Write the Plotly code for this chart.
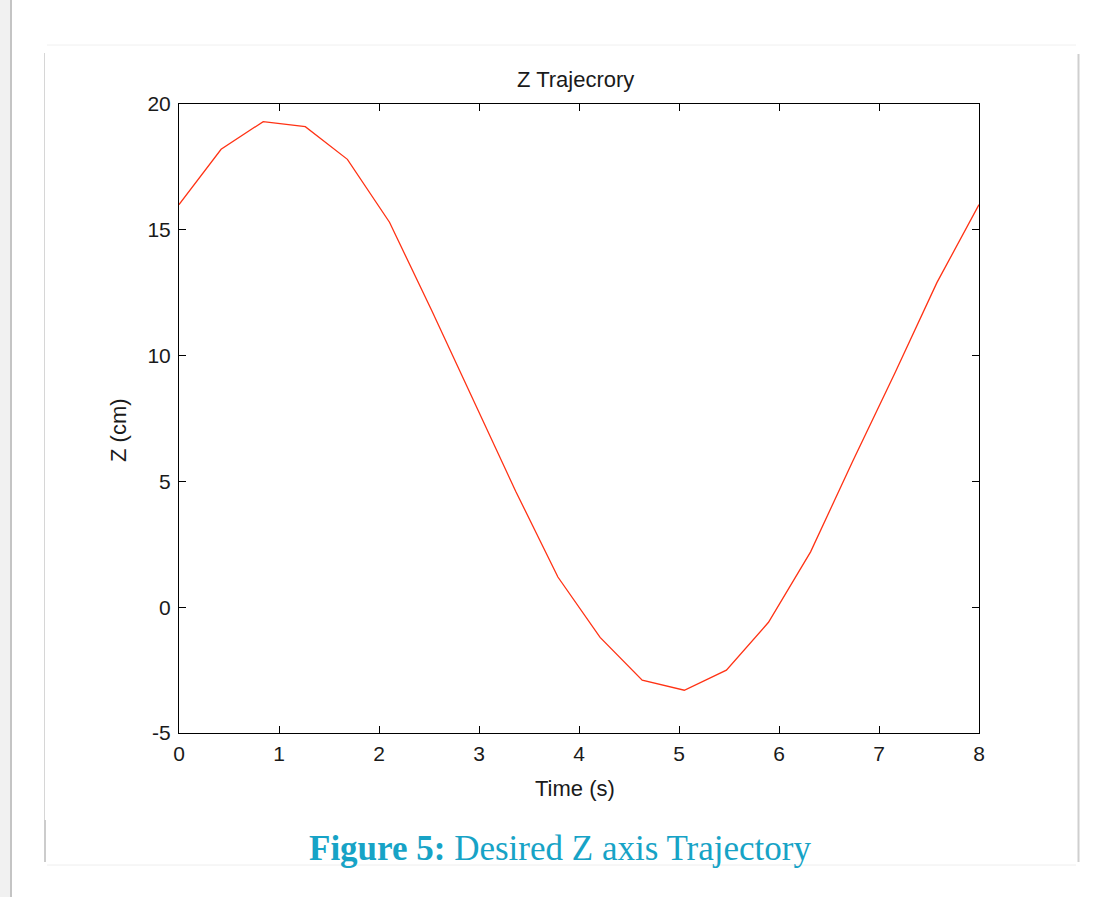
import plotly.graph_objects as go

# Data
time_s = [0.0, 0.421, 0.842, 1.263, 1.684, 2.105, 2.526, 2.947, 3.368, 3.789,
          4.211, 4.632, 5.053, 5.474, 5.895, 6.316, 6.737, 7.158, 7.579, 8.0]
z_cm = [16.0, 18.2, 19.3, 19.1, 17.8, 15.3, 11.8, 8.2, 4.6, 1.2,
        -1.2, -2.9, -3.3, -2.5, -0.6, 2.2, 5.8, 9.3, 12.9, 16.0]
x_ticks = [0, 1, 2, 3, 4, 5, 6, 7, 8]
y_ticks = [-5, 0, 5, 10, 15, 20]

W, H = 1105, 897
L, R, T, B = 179, 979, 104, 733

def px(x):
    return (x - L) / (R - L)

def py(y):
    return (B - y) / (B - T)

FONT = "Liberation Sans, Arial"
TXT = "#1a1a1a"

fig = go.Figure()
fig.add_trace(go.Scatter(x=time_s, y=z_cm, mode="lines",
                         line=dict(color="#ff3214", width=1.3),
                         showlegend=False, hoverinfo="skip"))

axis_common = dict(showline=True, linecolor="black", linewidth=1, mirror="ticks",
                   ticks="inside", ticklen=7, tickcolor="black", tickwidth=1,
                   showgrid=False, zeroline=False,
                   tickfont=dict(family=FONT, size=21, color=TXT))

fig.update_xaxes(range=[0, 8], tickvals=x_ticks, ticktext=[str(v) for v in x_ticks],
                 ticklabelstandoff=2, **axis_common)
fig.update_yaxes(range=[-5, 20], tickvals=y_ticks, ticktext=[str(v) for v in y_ticks],
                 ticklabelstandoff=3, **axis_common)

shapes = [
    # left page edge shadow
    dict(type="rect", xref="paper", yref="paper", x0=px(0), x1=px(10), y0=py(H), y1=py(0),
         fillcolor="#f1f1f1", line=dict(width=0), layer="below"),
    dict(type="line", xref="paper", yref="paper", x0=px(11), x1=px(11), y0=py(H), y1=py(0),
         line=dict(color="#c4c4c4", width=2)),
    # card borders
    dict(type="line", xref="paper", yref="paper", x0=px(47), x1=px(1076), y0=py(45), y1=py(45),
         line=dict(color="#f0f0f0", width=1)),
    dict(type="line", xref="paper", yref="paper", x0=px(44.5), x1=px(44.5), y0=py(53), y1=py(820),
         line=dict(color="#d6d6d6", width=1)),
    dict(type="line", xref="paper", yref="paper", x0=px(45), x1=px(45), y0=py(820), y1=py(862),
         line=dict(color="#cccccc", width=2)),
    dict(type="line", xref="paper", yref="paper", x0=px(1078.5), x1=px(1078.5), y0=py(54), y1=py(862),
         line=dict(color="#cfcfcf", width=2)),
    dict(type="line", xref="paper", yref="paper", x0=px(47), x1=px(1076), y0=py(865), y1=py(865),
         line=dict(color="#eeeeee", width=1)),
]

annotations = [
    dict(text="Z Trajecrory", x=px(575), y=py(80), xref="paper", yref="paper",
         showarrow=False, xanchor="center", yanchor="middle",
         font=dict(family=FONT, size=22, color=TXT)),
    dict(text="Time (s)", x=px(575), y=py(788), xref="paper", yref="paper",
         showarrow=False, xanchor="center", yanchor="middle",
         font=dict(family=FONT, size=22, color=TXT)),
    dict(text="Z (cm)", x=px(118), y=py(430), xref="paper", yref="paper",
         showarrow=False, xanchor="center", yanchor="middle", textangle=-90,
         font=dict(family=FONT, size=22, color=TXT)),
    dict(text="<b>Figure 5:</b> Desired Z axis Trajectory", x=px(560), y=py(848),
         xref="paper", yref="paper", showarrow=False, xanchor="center", yanchor="middle",
         font=dict(family="Liberation Serif, Times New Roman, serif", size=35, color="#17a3c6")),
]

fig.update_layout(width=W, height=H, margin=dict(l=L, r=W - R, t=T, b=H - B),
                  paper_bgcolor="white", plot_bgcolor="white",
                  shapes=shapes, annotations=annotations)

fig.write_html("out.html")
